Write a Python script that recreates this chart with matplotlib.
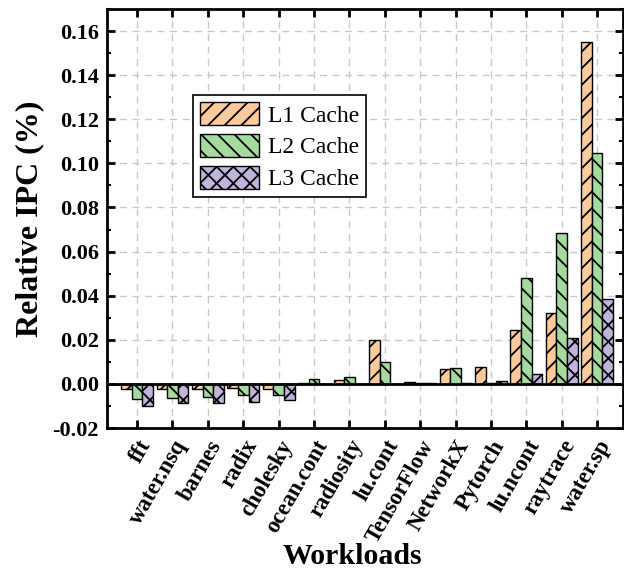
import numpy as np
import matplotlib
matplotlib.use("Agg")
import matplotlib.pyplot as plt
from matplotlib.ticker import MultipleLocator

plt.rcParams['font.family'] = ['Liberation Serif', 'DejaVu Serif']
plt.rcParams['hatch.linewidth'] = 1.3

workloads = ['fft', 'water.nsq', 'barnes', 'radix', 'cholesky', 'ocean.cont',
             'radiosity', 'lu.cont', 'TensorFlow', 'NetworkX', 'Pytorch',
             'lu.ncont', 'raytrace', 'water.sp']
l1Cache = [-0.0022, -0.0022, -0.0022, -0.0020, -0.0025, 0.0003,
           0.0017, 0.0199, 0.0008, 0.0066, 0.0075,
           0.0245, 0.0322, 0.1550]
l2Cache = [-0.0068, -0.0062, -0.0058, -0.0052, -0.0052, 0.0022,
           0.0032, 0.0099, 0.0003, 0.0071, 0.0002,
           0.0478, 0.0683, 0.1048]
l3Cache = [-0.0098, -0.0088, -0.0085, -0.0080, -0.0072, 0.0001,
           0.0001, 0.0001, 0.0002, 0.0004, 0.0014,
           0.0047, 0.0210, 0.0386]

series = [('L1 Cache', l1Cache, '#FDCB9B', '//'),
          ('L2 Cache', l2Cache, '#A4DA9E', '\\\\'),
          ('L3 Cache', l3Cache, '#C0B4DA', 'xx')]

fig = plt.figure(figsize=(6.24, 5.76), dpi=100)
ax = fig.add_axes([107/624, 1 - 428/576, 516/624, 419/576])

x = np.arange(len(workloads))
larguraBarra = 0.3
for i, (nome, valores, cor, hachura) in enumerate(series):
    ax.bar(x + (i - 1) * larguraBarra, valores, larguraBarra, color=cor,
           edgecolor='black', linewidth=1.0, hatch=hachura, label=nome, zorder=3)

ax.axhline(0, color='black', linewidth=2, zorder=4)

ax.set_xlim(-0.85, 13.73)
ax.set_ylim(-0.02, 0.17)
ax.set_xticks(x)
ax.set_xticklabels(workloads, rotation=60, ha='right', rotation_mode='anchor',
                   fontsize=16.5, fontweight='bold')
ax.yaxis.set_minor_locator(MultipleLocator(0.01))
ticksY = np.arange(-0.02, 0.161, 0.02)
ax.set_yticks(ticksY)
ax.set_yticklabels([f'{v:.2f}' for v in ticksY], fontsize=16, fontweight='bold')
ax.tick_params(axis='both', which='major', direction='in', length=6, width=2,
               top=True, right=True, pad=6)
ax.tick_params(axis='y', which='minor', direction='in', length=3, width=1.5,
               left=True, right=True)

for lado in ax.spines.values():
    lado.set_linewidth(2)

ax.grid(True, linestyle=(0, (5, 4)), color='#c8c8c8', linewidth=1, zorder=0)

ax.set_ylabel('Relative IPC (%)', fontsize=23, fontweight='bold', labelpad=6)
ax.set_xlabel('Workloads', fontsize=21.5, fontweight='bold')
ax.xaxis.set_label_coords(0.475, -0.275)

leg = ax.legend(loc='upper left', bbox_to_anchor=(0.167, 0.795), fontsize=17,
                handlelength=2.5, handleheight=1.15, labelspacing=0.3,
                handletextpad=0.35, borderpad=0.3, borderaxespad=0,
                fancybox=False, framealpha=1, edgecolor='black')
leg.get_frame().set_linewidth(1.2)

fig.savefig('out.png', dpi=100)
